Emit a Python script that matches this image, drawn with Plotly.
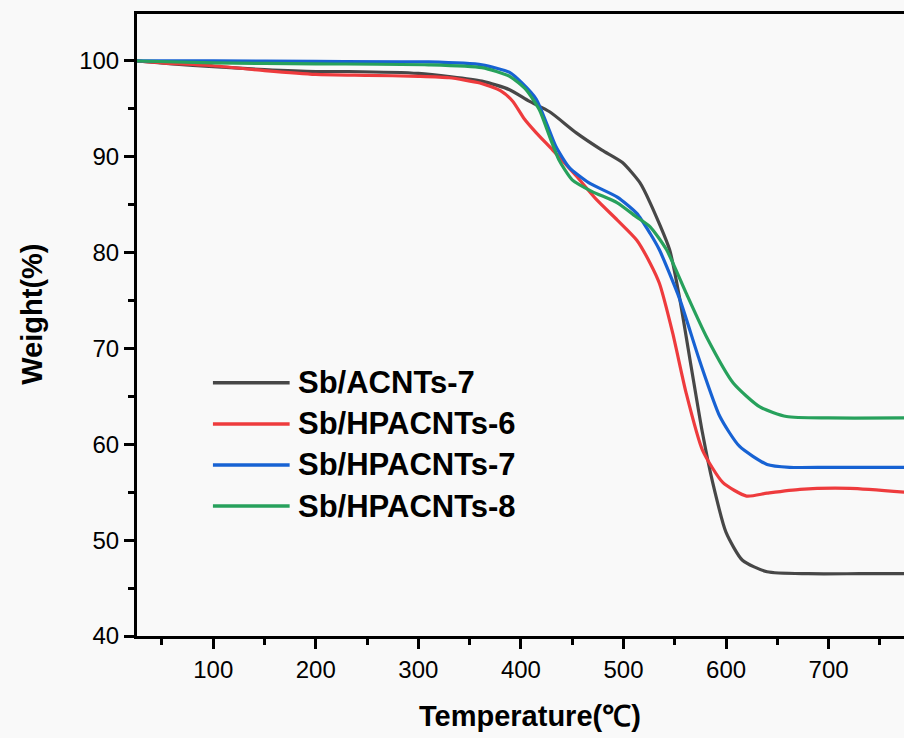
import plotly.graph_objects as go

# ---- data ----
names = ["Sb/ACNTs-7", "Sb/HPACNTs-6", "Sb/HPACNTs-7", "Sb/HPACNTs-8"]
colors = ["#474747", "#ee3b3d", "#1762d3", "#27a15c"]

x_acnt7 = [25, 60, 100, 150, 200, 232, 300, 362, 389, 408, 428, 454, 479, 499, 516, 526, 545, 555, 566, 577, 587, 600, 616, 640, 680, 730, 775]
y_acnt7 = [100, 99.7, 99.4, 99.1, 98.9, 98.9, 98.7, 97.9, 97.0, 95.8, 94.7, 92.5, 90.7, 89.4, 87.3, 85.2, 80.3, 75.1, 68.1, 61.2, 56.0, 50.8, 47.9, 46.7, 46.5, 46.5, 46.5]

x_hp6 = [25, 50, 100, 150, 200, 250, 300, 330, 360, 380, 392, 403, 415, 431, 454, 474, 494, 513, 526, 535, 548, 561, 577, 597, 620, 640, 672, 721, 775]
y_hp6 = [100, 99.8, 99.5, 99.0, 98.6, 98.5, 98.4, 98.25, 97.7, 96.9, 95.8, 94.0, 92.5, 90.7, 88.0, 85.5, 83.4, 81.3, 78.9, 76.8, 71.6, 65.4, 59.4, 56.0, 54.6, 54.9, 55.3, 55.4, 55.0]

x_hp7 = [25, 100, 200, 310, 362, 389, 401, 415, 425, 434, 447, 466, 494, 513, 526, 535, 555, 574, 594, 613, 640, 662, 700, 775]
y_hp7 = [100, 100, 99.95, 99.9, 99.6, 98.8, 97.7, 96.0, 93.5, 91.1, 88.9, 87.3, 85.8, 84.1, 82.0, 80.3, 75.1, 68.8, 62.9, 59.8, 57.9, 57.6, 57.6, 57.6]

x_hp8 = [25, 100, 200, 310, 362, 389, 405, 418, 428, 437, 450, 469, 494, 513, 526, 542, 561, 581, 607, 633, 659, 700, 775]
y_hp8 = [100, 99.8, 99.7, 99.6, 99.3, 98.4, 97.0, 94.9, 92.1, 89.7, 87.6, 86.4, 85.2, 83.7, 82.7, 80.3, 75.8, 71.2, 66.4, 63.9, 62.9, 62.75, 62.75]

xs = [x_acnt7, x_hp6, x_hp7, x_hp8]
ys = [y_acnt7, y_hp6, y_hp7, y_hp8]

x_tickvals = [100, 200, 300, 400, 500, 600, 700]
y_tickvals = [40, 50, 60, 70, 80, 90, 100]

FONT = "Liberation Sans, Arial"
bg = "#f9f9f9"
fig = go.Figure()
for n, c, x, y in zip(names, colors, xs, ys):
    fig.add_trace(go.Scatter(x=x, y=y, mode="lines", name=n,
                             line=dict(color=c, width=3.2, shape="spline", smoothing=0.6),
                             showlegend=False))

# manual legend (longer key lines like the reference)
leg_y = [0.407, 0.341, 0.275, 0.209]
for n, c, yy in zip(names, colors, leg_y):
    fig.add_shape(type="line", xref="paper", yref="paper", x0=0.099, x1=0.199, y0=yy, y1=yy,
                  line=dict(color=c, width=3.5))
    fig.add_annotation(xref="paper", yref="paper", x=0.207, y=yy, text=n, showarrow=False,
                       xanchor="left", yanchor="middle",
                       font=dict(family=FONT, size=31, color="black", weight="bold"))

# axis titles
fig.add_annotation(xref="paper", yref="paper", x=0.512, y=-0.129, text="Temperature(℃)",
                   showarrow=False, xanchor="center", yanchor="middle",
                   font=dict(family=FONT, size=29, color="black", weight="bold"))
fig.add_annotation(xref="paper", yref="paper", x=-0.137, y=0.518, text="Weight(%)", textangle=-90,
                   showarrow=False, xanchor="center", yanchor="middle",
                   font=dict(family=FONT, size=29, color="black", weight="bold"))

axis_common = dict(showline=True, linecolor="black", linewidth=3, ticks="outside",
                   tickwidth=3, ticklen=10, tickcolor="black", showgrid=False, zeroline=False,
                   tickfont=dict(family=FONT, size=24, color="black"))

fig.update_xaxes(range=[25.7, 773.5], tickvals=x_tickvals, mirror=True,
                 minor=dict(tickvals=[50, 150, 250, 350, 450, 550, 650, 750], ticklen=6,
                            tickwidth=3, tickcolor="black", ticks="outside"),
                 **axis_common)
fig.update_yaxes(range=[40, 104.9], tickvals=y_tickvals,
                 minor=dict(tickvals=[45, 55, 65, 75, 85, 95], ticklen=6,
                            tickwidth=3, tickcolor="black", ticks="outside"),
                 **axis_common)

fig.update_layout(width=904, height=738, margin=dict(l=137, r=0, t=14, b=102),
                  paper_bgcolor=bg, plot_bgcolor=bg)

fig.write_html("out.html", config={"displayModeBar": False},
               post_script="document.body.style.margin='0';document.body.style.background='" + bg + "';")
